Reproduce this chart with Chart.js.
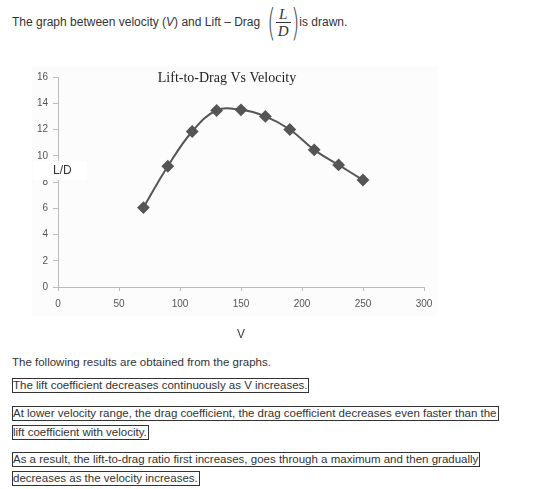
<!DOCTYPE html>
<html>
<head>
<meta charset="utf-8">
<script src="https://cdn.jsdelivr.net/npm/chart.js@4.4.0/dist/chart.umd.min.js"></script>
<style>
  body { margin: 0; width: 560px; height: 489px; background: #fff; font-family: Arial, "Liberation Sans", sans-serif; font-size: 12px; color: #333; position: relative; overflow: hidden; }
  #intro { position: absolute; left: 12px; top: 3px; height: 38px; display: flex; align-items: center; white-space: nowrap; }
  .paren { font-family: "DejaVu Sans", sans-serif; font-size: 38px; font-weight: 100; color: #444; line-height: 38px; transform: scaleX(0.55); display: inline-block; margin: 0 -3px; }
  .frac { display: inline-block; text-align: center; font-family: "Liberation Serif", serif; font-style: italic; font-size: 15px; line-height: 16px; vertical-align: middle; }
  .frac span { display: block; padding: 0 2px; }
  .frac .num { border-bottom: 1px solid #333; }
  #chartbox { position: absolute; left: 0; top: 60px; width: 450px; height: 286px; }
  #bg { position: absolute; left: 32px; top: 66px; width: 406px; height: 250px; background: #fcfcfc; }
  #notes { position: absolute; left: 12px; top: 353px; width: 545px; line-height: 19px; font-size: 11.5px; }
  #notes p { margin: 0; }
  #p1 { margin-bottom: 4px !important; }
  #p2 { margin-bottom: 9px !important; }
  #p3 { margin-bottom: 8px !important; }
  .box { border: 1px solid #333; -webkit-box-decoration-break: clone; box-decoration-break: clone; padding: 0 1px 1px 0; }
</style>
</head>
<body>
<div id="intro">The graph between velocity (<i>V</i>) and Lift – Drag&nbsp;&nbsp;<span class="paren">(</span><span class="frac"><span class="num">L</span><span>D</span></span><span class="paren">)</span>is drawn.</div>
<div id="bg"></div>
<div id="chartbox"><canvas id="ldChart"></canvas></div>
<div id="notes">
  <p id="p1">The following results are obtained from the graphs.</p>
  <p id="p2"><span class="box">The lift coefficient decreases continuously as V increases.</span></p>
  <p id="p3"><span class="box">At lower velocity range, the drag coefficient, the drag coefficient decreases even faster than the<br>lift coefficient with velocity.</span></p>
  <p id="p4"><span class="box">As a result, the lift-to-drag ratio first increases, goes through a maximum and then gradually<br>decreases as the velocity increases.</span></p>
</div>
<script>
const velocity = [70, 90, 110, 130, 150, 170, 190, 210, 230, 250];
const liftToDrag = [6.05, 9.2, 11.85, 13.45, 13.5, 13.0, 12.0, 10.45, 9.3, 8.15];
const chartTitle = 'Lift-to-Drag Vs Velocity';
const xTitle = 'V';
const yTitle = 'L/D';

// titre et label L/D dessinés dans la zone du graphe
const overlayText = {
  id: 'overlayText',
  afterDraw(chart) {
    const { ctx, chartArea } = chart;
    ctx.save();
    ctx.font = '14px "Liberation Serif", serif';
    ctx.fillStyle = '#222';
    ctx.textAlign = 'center';
    ctx.textBaseline = 'middle';
    ctx.fillText(chartTitle, 227, chartArea.top + 1);

    // boite blanche du label, elle masque un bout de l'axe et du "8"
    ctx.fillStyle = '#fff';
    ctx.fillRect(33, 101, 54, 19);
    ctx.font = '12px Arial, "Liberation Sans", sans-serif';
    ctx.fillStyle = '#333';
    ctx.textAlign = 'left';
    ctx.fillText(yTitle, 53, 111);
    ctx.restore();
  }
};

new Chart(document.getElementById('ldChart'), {
  type: 'line',
  data: {
    datasets: [{
      data: velocity.map((v, i) => ({ x: v, y: liftToDrag[i] })),
      borderColor: '#555',
      backgroundColor: '#555',
      borderWidth: 2,
      tension: 0.4,
      pointStyle: 'rectRot',
      pointRadius: 5,
      pointHoverRadius: 5
    }]
  },
  options: {
    responsive: true,
    maintainAspectRatio: false,
    animation: false,
    layout: { padding: { top: 17, right: 26, left: 0, bottom: 0 } },
    plugins: { legend: { display: false }, tooltip: { enabled: false } },
    scales: {
      x: {
        type: 'linear',
        min: 0, max: 300,
        ticks: { stepSize: 50, color: '#555', font: { size: 10, family: 'Arial' }, padding: 7 },
        grid: { drawOnChartArea: false, tickLength: 4, color: '#bbb' },
        border: { color: '#bbb' },
        title: { display: true, text: xTitle, color: '#444', font: { size: 12, family: 'Arial' }, padding: { top: 16 } },
        afterFit(scale) { scale.height = 59; }
      },
      y: {
        min: 0, max: 16,
        ticks: { stepSize: 2, color: '#555', font: { size: 10, family: 'Arial' }, padding: 5 },
        grid: { drawOnChartArea: false, tickLength: 5, color: '#bbb' },
        border: { color: '#bbb' },
        afterFit(scale) { scale.width = 58; }
      }
    }
  },
  plugins: [overlayText]
});
</script>
</body>
</html>
